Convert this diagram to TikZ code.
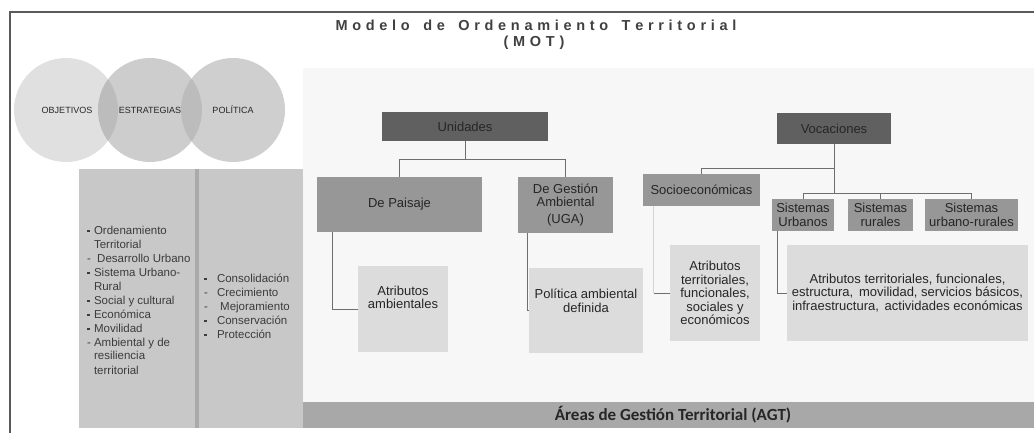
\documentclass[tikz,border=0pt]{standalone}
\usepackage{fontspec}
\setmainfont{Liberation Sans}
\newfontfamily\calib{Carlito}
\newfontfamily\titlebold{Liberation Sans Bold}
\makeatletter
\newcommand\lspaced[2]{\def\lsp@k{#1}\@tfor\lsp@t:=#2\do{\lsp@t\kern\lsp@k}\kern-\lsp@k}
\makeatother
\definecolor{cframe}{HTML}{5A5A5A}
\definecolor{cpanel}{HTML}{F7F7F7}
\definecolor{cdark}{HTML}{606060}
\definecolor{cmid}{HTML}{979797}
\definecolor{clight}{HTML}{DCDCDC}
\definecolor{ccol}{HTML}{C8C8C8}
\definecolor{cdiv}{HTML}{AAAAAA}
\definecolor{cbar}{HTML}{A8A8A8}
\definecolor{ctxt}{HTML}{262626}
\definecolor{ccoltxt}{HTML}{3C3C3C}
\definecolor{ctitle}{HTML}{404040}
\definecolor{cline}{HTML}{6E6E6E}
\definecolor{clinelt}{HTML}{D4D4D4}
\definecolor{cc1}{HTML}{E0E0E0}
\definecolor{cc2}{HTML}{CDCDCD}
\definecolor{cc3}{HTML}{CFCFCF}
\definecolor{cov}{HTML}{BCBCBC}
\newcommand\sqb{\raisebox{1.6pt}{\rule{2.4pt}{2.4pt}}}
\tikzset{
  boxbase/.style={draw=none, inner sep=1pt, align=center, text=ctxt,
    font=\fontsize{13}{13.6}\selectfont},
  darkbox/.style={boxbase, fill=cdark},
  midbox/.style={boxbase, fill=cmid},
  lightbox/.style={boxbase, fill=clight},
  circtext/.style={inner sep=0pt, text=ctxt, font=\fontsize{9}{10}\selectfont},
  coltext/.style={inner sep=0pt, anchor=north west, text=ccoltxt, align=left,
    font=\fontsize{11.5}{14}\selectfont},
  titletext/.style={inner sep=0pt, text=ctitle, font=\titlebold\fontsize{14.5}{17}\selectfont},
  conn/.style={draw=cline, line width=0.9pt},
  connlt/.style={draw=clinelt, line width=0.9pt},
}
\begin{document}
\begin{tikzpicture}[x=1pt,y=-1pt]
\useasboundingbox (0,0) rectangle (1034,433);
\fill[white] (0,0) rectangle (1034,433);
% frame
\draw[cframe, line width=1.8pt] (10,433) -- (10,12) -- (1034,12);
% title
\node[titletext] (title) at (536,25) {\lspaced{4.7pt}{Modelo~de~Ordenamiento~Territorial}};
\node[titletext] (mot) at (534,43) {\lspaced{4.7pt}{(MOT)}};
% panel
\fill[cpanel] (303,68) rectangle (1034,402);
% circles
\fill[cc1] (66,110) circle (52);
\fill[cc2] (150,110) circle (52);
\fill[cc3] (233,110) circle (52);
\begin{scope}
  \clip (66,110) circle (52);
  \fill[cov] (150,110) circle (52);
\end{scope}
\begin{scope}
  \clip (150,110) circle (52);
  \fill[cov] (233,110) circle (52);
\end{scope}
\node[circtext] (obj) at (67,110) {OBJETIVOS};
\node[circtext] (est) at (150,110) {ESTRATEGIAS};
\node[circtext] (pol) at (233,110) {POLÍTICA};
% left columns
\fill[ccol] (79,169) rectangle (303,428);
\fill[cdiv] (195,169) rectangle (199,428);
\node[coltext] (col1) at (87,224) {\begin{tabular}{@{}l@{\hspace{3pt}}l@{}}
\sqb & Ordenamiento\\
 & Territorial\\
- & \ Desarrollo Urbano\\
\sqb & Sistema Urbano-\\
 & Rural\\
\sqb & Social y cultural\\
\sqb & Económica\\
\sqb & Movilidad\\
- & Ambiental y de\\
 & resiliencia\\
 & territorial
\end{tabular}};
\node[coltext] (col2) at (204,272) {\begin{tabular}{@{}l@{\hspace{9pt}}l@{}}
\sqb & Consolidación\\
- & Crecimiento\\
- & \ Mejoramiento\\
\sqb & Conservación\\
\sqb & Protección
\end{tabular}};
% bottom bar
\fill[cbar] (303,402) rectangle (1034,428);
\node[inner sep=0pt, text=ctxt, font=\calib\bfseries\fontsize{17}{19}\selectfont] (agt) at (673,415) {Áreas de Gestión Territorial (AGT)};
% boxes
\node[darkbox, minimum width=166, minimum height=29] (unidades) at (465,126.5) {Unidades};
\node[midbox, minimum width=165, minimum height=55] (paisaje) at (399.5,204.5) {De Paisaje};
\node[midbox, minimum width=95, minimum height=56] (uga) at (565.5,205) {De Gestión\\Ambiental\\[3pt](UGA)};
\node[darkbox, minimum width=114, minimum height=31] (vocaciones) at (834,128.5) {Vocaciones};
\node[midbox, minimum width=117, minimum height=32] (socio) at (701.5,190) {Socioeconómicas};
\node[midbox, minimum width=62, minimum height=32] (surb) at (803,215) {Sistemas\\Urbanos};
\node[midbox, minimum width=65, minimum height=32] (srur) at (880.5,215) {Sistemas\\rurales};
\node[midbox, minimum width=93, minimum height=32] (surbr) at (971.5,215) {Sistemas\\urbano-rurales};
\node[lightbox, minimum width=90, minimum height=86] (atramb) at (403,309) {Atributos\\ambientales\\[10pt]};
\node[lightbox, minimum width=114, minimum height=85] (polamb) at (586,310.5) {Política ambiental\\definida\\[6pt]};
\node[lightbox, minimum width=90, minimum height=96] (atrsoc) at (715,293) {Atributos\\territoriales,\\funcionales,\\sociales y\\económicos};
\node[lightbox, minimum width=241, minimum height=96] (atrbig) at (907.5,293) {Atributos territoriales, funcionales,\\estructura,\, movilidad, servicios básicos,\\infraestructura,\, actividades económicas};
% connectors
\draw[conn] (unidades.south) -- ++(0,18) -| (paisaje.north);
\draw[conn] (unidades.south) -- ++(0,18) -| (uga.north);
\draw[conn] ([xshift=16pt]paisaje.south west) |- (atramb.west);
\draw[conn] ([xshift=10pt]uga.south west) |- (polamb.west);
\draw[conn] (vocaciones.south) -- ++(0,49) -| (surb.north);
\draw[conn] (vocaciones.south) -- ++(0,49) -| (srur.north);
\draw[conn] (vocaciones.south) -- ++(0,49) -| (surbr.north);
\draw[conn] (vocaciones.south) -- ++(0,24) -| (socio.north);
\coordinate (sockn) at ([xshift=11pt]socio.south west |- atrsoc.west);
\draw[connlt] ([xshift=11pt]socio.south west) -- (sockn);
\draw[conn] (sockn) -- (atrsoc.west);
\draw[conn] ([xshift=6pt]surb.south west) |- (atrbig.west);
\end{tikzpicture}
\end{document}
